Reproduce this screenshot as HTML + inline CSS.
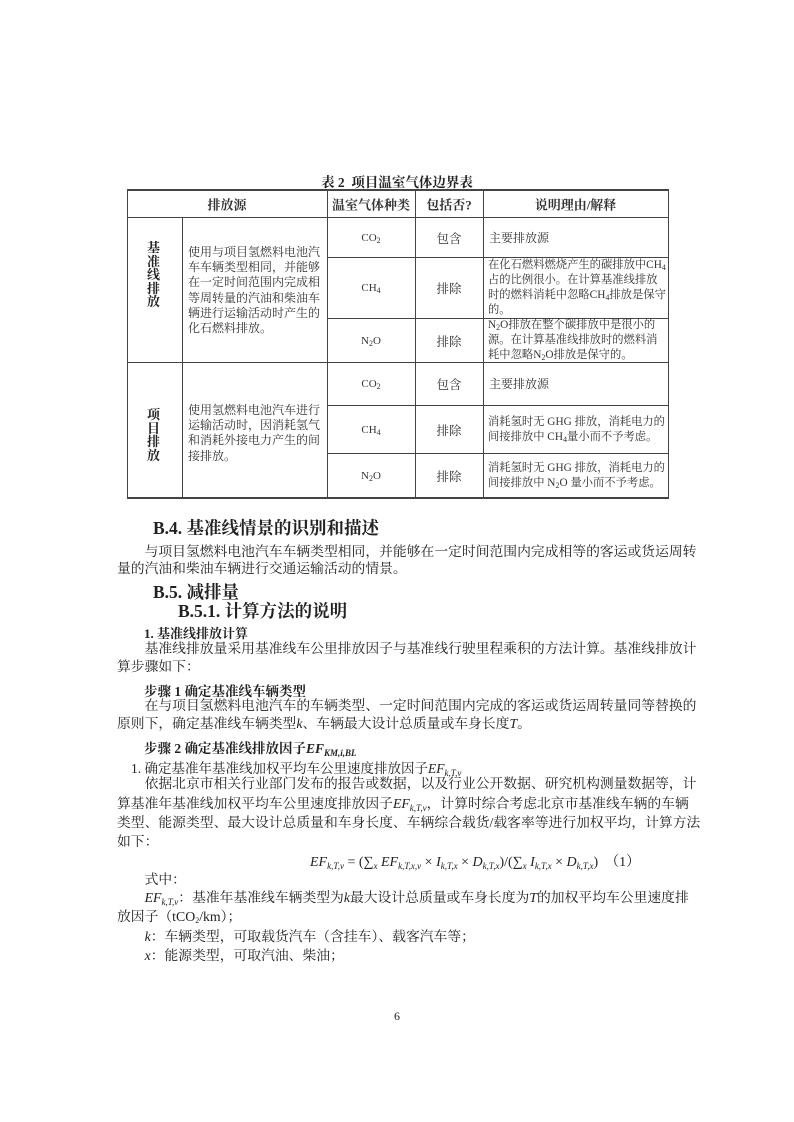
<!DOCTYPE html>
<html><head><meta charset="utf-8"><style>
body{margin:0;background:#fff;}
#p{position:relative;width:794px;height:1122px;background:#fff;overflow:hidden;font-family:"Liberation Serif","Noto Serif CJK SC",serif;color:#222;}
.a{position:absolute;white-space:nowrap;}
.h{position:absolute;background:#444;height:1px;}
.v{position:absolute;background:#444;width:1px;}
.c{position:absolute;font-size:12px;line-height:15.2px;color:#333;}
.c5{position:absolute;font-size:11.3px;line-height:15px;color:#333;white-space:nowrap;}
.cc{position:absolute;font-size:12.5px;text-align:center;color:#333;transform:translateY(-50%);}
.ln{position:absolute;left:117px;width:567px;font-size:13.8px;line-height:16px;white-space:nowrap;text-align:justify;text-align-last:justify;}
.ls{text-align-last:left;}
.b{font-weight:bold;font-family:"Liberation Serif","Noto Serif CJK SC",serif;}
i{font-family:"Liberation Serif",serif;}
sub{font-size:9px;vertical-align:-3px;font-style:italic;line-height:0;}
.n{font-size:8px;vertical-align:-2px;line-height:0;}
</style></head><body><div id="p">

<div class="a b" style="left:0;width:794px;text-align:center;top:171px;font-size:13.5px;">表 2&nbsp; 项目温室气体边界表</div>

<div class="h" style="left:127px;width:542px;top:189px;height:1.5px"></div>
<div class="h" style="left:127px;width:542px;top:217px"></div>
<div class="h" style="left:327px;width:342px;top:257px"></div>
<div class="h" style="left:327px;width:342px;top:318px"></div>
<div class="h" style="left:127px;width:542px;top:362px"></div>
<div class="h" style="left:327px;width:342px;top:405px"></div>
<div class="h" style="left:327px;width:342px;top:453px"></div>
<div class="h" style="left:127px;width:542px;top:497px;height:1.5px"></div>
<div class="v" style="left:127px;top:189px;height:309px"></div>
<div class="v" style="left:182px;top:217px;height:281px"></div>
<div class="v" style="left:327px;top:189px;height:309px"></div>
<div class="v" style="left:415px;top:189px;height:309px"></div>
<div class="v" style="left:483px;top:189px;height:309px"></div>
<div class="v" style="left:668px;top:189px;height:309px"></div>

<div class="cc b" style="left:127px;width:200px;top:204px;font-size:13px">排放源</div>
<div class="cc b" style="left:327px;width:88px;top:204px;font-size:13px">温室气体种类</div>
<div class="cc b" style="left:415px;width:68px;top:204px;font-size:13px">包括否?</div>
<div class="cc b" style="left:483px;width:185px;top:204px;font-size:13px">说明理由/解释</div>

<div class="a b" style="left:147px;top:241px;width:14px;font-size:13px;line-height:13.5px;white-space:normal">基准线排放</div>
<div class="c" style="left:188px;top:245px;width:135px">使用与项目氢燃料电池汽车车辆类型相同，并能够在一定时间范围内完成相等周转量的汽油和柴油车辆进行运输活动时产生的化石燃料排放。</div>
<div class="cc" style="left:327px;width:88px;top:238px;font-size:11px">CO<span class="n">2</span></div>
<div class="cc" style="left:415px;width:68px;top:238px">包含</div>
<div class="c" style="left:489px;top:231px">主要排放源</div>
<div class="cc" style="left:327px;width:88px;top:288px;font-size:11px">CH<span class="n">4</span></div>
<div class="cc" style="left:415px;width:68px;top:288px">排除</div>
<div class="c5" style="left:488px;top:258px">在化石燃料燃烧产生的碳排放中CH<span class="n">4</span><br>占的比例很小。在计算基准线排放<br>时的燃料消耗中忽略CH<span class="n">4</span>排放是保守<br>的。</div>
<div class="cc" style="left:327px;width:88px;top:341px;font-size:11px">N<span class="n">2</span>O</div>
<div class="cc" style="left:415px;width:68px;top:341px">排除</div>
<div class="c5" style="left:488px;top:318px">N<span class="n">2</span>O排放在整个碳排放中是很小的<br>源。在计算基准线排放时的燃料消<br>耗中忽略N<span class="n">2</span>O排放是保守的。</div>

<div class="a b" style="left:147px;top:408px;width:14px;font-size:13px;line-height:13.5px;white-space:normal">项目排放</div>
<div class="c" style="left:188px;top:403px;width:135px">使用氢燃料电池汽车进行运输活动时，因消耗氢气和消耗外接电力产生的间接排放。</div>
<div class="cc" style="left:327px;width:88px;top:384px;font-size:11px">CO<span class="n">2</span></div>
<div class="cc" style="left:415px;width:68px;top:384px">包含</div>
<div class="c" style="left:489px;top:377px">主要排放源</div>
<div class="cc" style="left:327px;width:88px;top:430px;font-size:11px">CH<span class="n">4</span></div>
<div class="cc" style="left:415px;width:68px;top:430px">排除</div>
<div class="c5" style="left:488px;top:415px">消耗氢时无 GHG 排放，消耗电力的<br>间接排放中 CH<span class="n">4</span>量小而不予考虑。</div>
<div class="cc" style="left:327px;width:88px;top:476px;font-size:11px">N<span class="n">2</span>O</div>
<div class="cc" style="left:415px;width:68px;top:476px">排除</div>
<div class="c5" style="left:488px;top:461px">消耗氢时无 GHG 排放，消耗电力的<br>间接排放中 N<span class="n">2</span>O 量小而不予考虑。</div>

<div class="a b" style="left:153px;top:515px;font-size:17.5px">B.4. 基准线情景的识别和描述</div>
<div class="ln" style="top:544px">　　与项目氢燃料电池汽车车辆类型相同，并能够在一定时间范围内完成相等的客运或货运周转</div>
<div class="ln ls" style="top:561px">量的汽油和柴油车辆进行交通运输活动的情景。</div>
<div class="a b" style="left:153px;top:579px;font-size:17.5px">B.5. 减排量</div>
<div class="a b" style="left:178px;top:598px;font-size:17.5px">B.5.1. 计算方法的说明</div>
<div class="a b" style="left:144px;top:623px;font-size:13px">1. 基准线排放计算</div>
<div class="ln" style="top:641px">　　基准线排放量采用基准线车公里排放因子与基准线行驶里程乘积的方法计算。基准线排放计</div>
<div class="ln ls" style="top:659px">算步骤如下：</div>
<div class="a b" style="left:144px;top:680px;font-size:13.5px">步骤 1 确定基准线车辆类型</div>
<div class="ln" style="top:698px">　　在与项目氢燃料电池汽车的车辆类型、一定时间范围内完成的客运或货运周转量同等替换的</div>
<div class="ln ls" style="top:716px">原则下，确定基准线车辆类型<i>k</i>、车辆最大设计总质量或车身长度<i>T</i>。</div>
<div class="a b" style="left:144px;top:737px;font-size:13.5px">步骤 2 确定基准线排放因子<i>EF<sub>KM,i,BL</sub></i></div>
<div class="a" style="left:131px;top:757px;font-size:13.5px">1. 确定基准年基准线加权平均车公里速度排放因子<i>EF<sub>k,T,v</sub></i></div>
<div class="ln" style="top:776px">　　依据北京市相关行业部门发布的报告或数据，以及行业公开数据、研究机构测量数据等，计</div>
<div class="ln" style="top:796px">算基准年基准线加权平均车公里速度排放因子<i>EF<sub>k,T,v</sub></i>，计算时综合考虑北京市基准线车辆的车辆</div>
<div class="ln" style="top:815px">类型、能源类型、最大设计总质量和车身长度、车辆综合载货/载客率等进行加权平均，计算方法</div>
<div class="ln ls" style="top:834px">如下：</div>
<div class="a" style="left:310px;top:851px;font-size:14px"><i>EF<sub>k,T,v</sub></i> = (∑<sub>x</sub> <i>EF<sub>k,T,x,v</sub></i> × <i>I<sub>k,T,x</sub></i> × <i>D<sub>k,T,x</sub></i>)/(∑<sub>x</sub> <i>I<sub>k,T,x</sub></i> × <i>D<sub>k,T,x</sub></i>) &nbsp;（1）</div>
<div class="ln ls" style="top:872px">　　式中：</div>
<div class="ln" style="top:890px">　　<i>EF<sub>k,T,v</sub></i>：基准年基准线车辆类型为<i>k</i>最大设计总质量或车身长度为<i>T</i>的加权平均车公里速度排</div>
<div class="ln ls" style="top:909px">放因子（tCO<span class="n">2</span>/km）；</div>
<div class="ln ls" style="top:929px">　　<i>k</i>：车辆类型，可取载货汽车（含挂车）、载客汽车等；</div>
<div class="ln ls" style="top:948px">　　<i>x</i>：能源类型，可取汽油、柴油；</div>
<div class="a" style="left:0;width:794px;text-align:center;top:1009px;font-size:12px">6</div>
</div></body></html>
